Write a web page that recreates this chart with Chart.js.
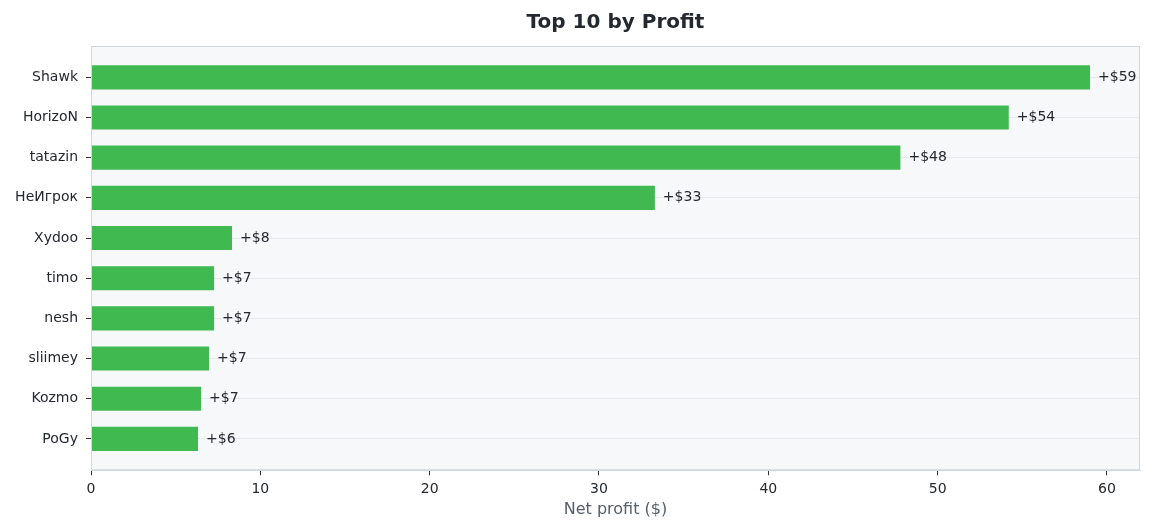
<!DOCTYPE html>
<html>
<head>
<meta charset="utf-8">
<title>Top 10 by Profit</title>
<script src="https://cdn.jsdelivr.net/npm/chart.js@4"></script>
<style>
  html, body { margin: 0; padding: 0; background: #ffffff; }
  #holder { width: 1152px; height: 531px; }
</style>
</head>
<body>
<div id="holder">
  <canvas id="chart" width="1152" height="531"></canvas>
</div>
<script>
// data
var players = ['Shawk', 'HorizoN', 'tatazin', 'НеИгрок', 'Xydoo', 'timo', 'nesh', 'sliimey', 'Kozmo', 'PoGy'];
var profit = [59.0, 54.2, 47.8, 33.3, 8.33, 7.27, 7.27, 6.97, 6.5, 6.32];
var profitLabels = ['+$59', '+$54', '+$48', '+$33', '+$8', '+$7', '+$7', '+$7', '+$7', '+$6'];
var xTicks = [0, 10, 20, 30, 40, 50, 60];

var textColor = '#24292f';
var fontFamily = '"DejaVu Sans", sans-serif';

// plot background + frame
var frame = {
    id: 'frame',
    beforeDraw: function(chart) {
        var a = chart.chartArea, ctx = chart.ctx;
        ctx.save();
        ctx.fillStyle = '#f6f8fa';
        ctx.fillRect(a.left, a.top, a.right - a.left, a.bottom - a.top);
        ctx.restore();
    },
    afterDraw: function(chart) {
        var a = chart.chartArea, ctx = chart.ctx;
        ctx.save();
        ctx.strokeStyle = '#d0d7de';
        ctx.lineWidth = 1;
        ctx.strokeRect(a.left + 0.5, a.top + 0.5, a.right - a.left - 1, a.bottom - a.top - 1);
        ctx.restore();
    }
};

// "+$59" labels at bar ends
var valueLabels = {
    id: 'valueLabels',
    afterDatasetsDraw: function(chart) {
        var ctx = chart.ctx;
        var meta = chart.getDatasetMeta(0);
        ctx.save();
        ctx.font = '14px ' + fontFamily;
        ctx.fillStyle = textColor;
        ctx.textAlign = 'left';
        ctx.textBaseline = 'middle';
        meta.data.forEach(function(bar, i) {
            ctx.fillText(profitLabels[i], bar.x + 8, bar.y);
        });
        ctx.restore();
    }
};

var ctx = document.getElementById('chart').getContext('2d');
var chart = new Chart(ctx, {
    type: 'bar',
    data: {
        datasets: [{
            data: profit.map(function(v, i) { return { x: v, y: i }; }),
            backgroundColor: '#3fb950',
            borderWidth: 0,
            categoryPercentage: 0.6,
            barPercentage: 1.0
        }]
    },
    options: {
        indexAxis: 'y',
        responsive: false,
        devicePixelRatio: 1,
        animation: false,
        layout: { padding: { left: 0, right: 12, top: 0, bottom: 8 } },
        plugins: {
            legend: { display: false },
            tooltip: { enabled: false },
            title: {
                display: true,
                text: 'Top 10 by Profit',
                fullSize: false,
                color: textColor,
                font: { family: fontFamily, size: 20, weight: 'bold' },
                padding: { top: 11, bottom: 11 }
            }
        },
        scales: {
            x: {
                type: 'linear',
                min: 0,
                max: 61.95,
                afterBuildTicks: function(scale) {
                    scale.ticks = xTicks.map(function(v) { return { value: v }; });
                },
                ticks: {
                    color: textColor,
                    padding: 6,
                    font: { family: fontFamily, size: 14 }
                },
                grid: {
                    drawOnChartArea: false,
                    tickLength: 5,
                    tickColor: '#333333'
                },
                border: { color: '#d0d7de' },
                title: {
                    display: true,
                    text: 'Net profit ($)',
                    color: '#57606a',
                    font: { family: fontFamily, size: 16, lineHeight: 1 },
                    padding: { top: -2, bottom: 5 }
                }
            },
            y: {
                type: 'linear',
                reverse: true,
                offset: false,
                min: -0.78,
                max: 9.78,
                afterBuildTicks: function(scale) {
                    scale.ticks = players.map(function(p, i) { return { value: i }; });
                },
                afterFit: function(scale) { scale.width = 91; },
                ticks: {
                    color: textColor,
                    padding: 8,
                    font: { family: fontFamily, size: 14 },
                    callback: function(v) { return players[v]; }
                },
                grid: {
                    offset: false,
                    color: '#e6e9ee',
                    tickLength: 5,
                    tickColor: '#333333'
                },
                border: { color: '#d0d7de' }
            }
        }
    },
    plugins: [frame, valueLabels]
});
</script>
</body>
</html>
